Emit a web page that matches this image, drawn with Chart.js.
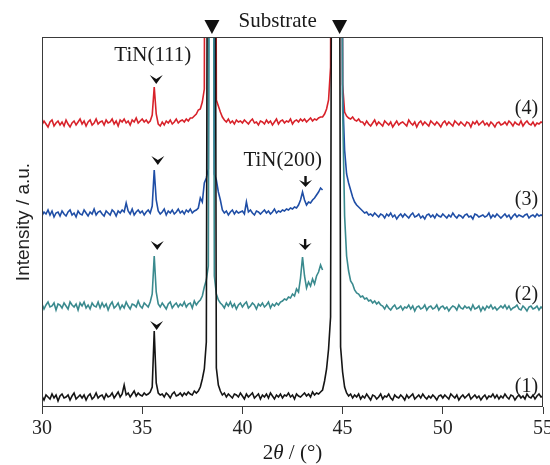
<!DOCTYPE html>
<html>
<head>
<meta charset="utf-8">
<script src="https://cdn.jsdelivr.net/npm/chart.js@4/dist/chart.umd.min.js"></script>
<style>
  html, body { margin: 0; padding: 0; background: #fff; }
  #wrap { width: 550px; height: 465px; position: relative; }
</style>
</head>
<body>
<div id="wrap"><canvas id="xrd"></canvas></div>
<script>
// 2theta grid of the scan (deg), 0.1 deg steps from 30 to 55
const angles = Array.from({ length: 251 }, (_, i) => +(30 + i * 0.1).toFixed(1));
const tickLabels = [30, 35, 40, 45, 50, 55];

// intensities above each trace's own baseline (a.u.), one row per degree; 900 = off scale
const curve1 = [
  1, -3, 2, 0, -2, 3, -1, 2, -4, 1,
  3, -1, 0, 2, -3, 1, 4, -2, 0, 2,
  -1, 2, -3, 1, 3, -2, 0, 4, -1, 1,
  2, -2, 3, 0, 1, 4, -1, 2, 5, 0,
  3, 12, 2, 4, 0, 3, 6, 1, 4, 2,
  1, 4, 2, 3, 5, 10, 66, 14, 4, 2,
  3, 0, 4, 2, -1, 3, 5, 1, 2, 4,
  1, 4, 2, 5, 3, 2, 6, 4, 6, 10,
  18, 28, 55, 900, 900, 900, 900, 29, 12, 6,
  2, 4, 0, 3, 1, -1, 3, 2, 0, 4,
  1, -2, 3, 0, 2, 4, -1, 1, 3, -2,
  2, 0, 3, -1, 4, 1, -2, 2, 0, 3,
  -1, 2, 1, 4, 0, 2, -2, 3, 1, 0,
  2, 4, 1, 3, 0, 5, 2, 4, 3, 5,
  7, 16, 28, 48, 80, 900, 900, 900, 900, 50,
  25, 10, 4, 1, 3, -1, 2, 0, 3, -2,
  1, -1, 3, 0, -3, 2, 1, -2, 0, 3,
  -2, 1, 0, 3, -1, -3, 2, 0, -1, 2,
  0, -3, 2, -1, 1, 3, -2, 0, 2, -1,
  3, 0, -2, 1, -1, 2, 0, -3, 1, 2,
  -1, 2, 0, -2, 3, 1, -1, 2, -3, 0,
  2, -1, 1, 3, -2, 0, 2, -1, 1, -3,
  0, 2, -2, 1, 0, 3, -1, 2, -2, 1,
  -1, 3, 0, -2, 2, 1, -3, 0, 2, -1,
  1, -2, 3, 0, -1, 2, -2, 1, 3, 0,
  1
];
const curve2 = [
  2, -3, 1, 4, -1, 0, 3, -4, 2, 1,
  -2, 3, 0, -3, 4, 1, -1, 2, -4, 3,
  0, 4, -2, 1, -3, 3, 0, -1, 4, -2,
  3, -1, 2, -4, 1, 4, -2, 0, 3, -3,
  1, -2, 4, 0, -3, 2, 1, -1, 5, 0,
  -2, 3, 1, -1, 4, 12, 50, 14, 2, -1,
  3, 0, -3, 2, 4, -2, 1, 3, -1, 2,
  0, 4, -1, 2, 3, -2, 5, 1, 4, 6,
  10, 19, 26, 40, 900, 900, 30, 12, 6, 3,
  1, -2, 3, 0, 4, -1, 2, -3, 1, 3,
  -1, 2, 4, -2, 0, 3, 1, -3, 2, 0,
  3, -1, 1, 4, -2, 2, 0, 3, 1, 4,
  5, 7, 6, 9, 8, 12, 10, 17, 14, 28,
  49, 30, 18, 24, 20, 27, 22, 30, 34, 41,
  36, null, null, null, null, 900, 900, 900, 900, 900,
  200, 90, 50, 35, 25, 22, 16, 13, 12, 9,
  10, 7, 8, 5, 6, 3, 5, 2, 4, 1,
  0, -3, 1, -2, -4, -1, 1, -3, -2, 0,
  -4, -1, -2, 1, -3, 0, -5, -1, 0, -3,
  -2, 1, -4, -1, 0, -3, -2, 1, -4, -1,
  0, -3, -1, -5, -2, 0, -1, -4, 1, -2,
  -3, 0, -2, -1, -4, 1, -3, -2, 0, -5,
  -1, -4, 0, -2, 1, -3, -1, -4, -2, 0,
  -2, 1, -3, 0, -4, -2, -1, 1, -3, -4,
  0, -2, -5, -1, 0, -3, -2, 0, -4, -1,
  -3
];
const curve3 = [
  -2, 2, 0, 4, -1, 3, -3, 1, 2, -2,
  3, 0, -2, 2, 4, -1, 1, -3, 3, 0,
  -1, 4, 1, -2, 2, 0, 5, -1, 2, 3,
  0, -2, 3, 1, -1, 4, 2, -2, 3, 1,
  4, 2, 11, 3, 0, 5, -1, 2, 4, 1,
  3, -1, 2, 4, 1, 8, 44, 14, 3, 0,
  2, 5, -1, 3, 1, 4, 0, 2, 5, 1,
  3, 0, 4, 2, 5, 1, 3, 4, 6, 16,
  12, 31, 36, 45, 900, 900, 40, 34, 22, 14,
  4, 1, 3, -1, 2, 4, 0, 3, 1, 2,
  3, 0, 12, 2, 4, 1, -1, 3, 2, 0,
  2, 4, 1, 3, 0, 2, 5, 1, 3, 2,
  4, 3, 5, 4, 6, 5, 7, 6, 9, 14,
  22, 14, 9, 12, 11, 14, 16, 19, 22, 26,
  24, null, null, null, null, 900, 900, 900, 900, 900,
  120, 64, 40, 31, 24, 17, 12, 9, 7, 5,
  3, 1, 2, -1, 0, -2, 1, -1, -3, 0,
  -1, -4, 0, -2, 1, -3, -1, -5, -2, 0,
  -3, 0, -2, -4, -1, 1, -3, -2, 0, -4,
  -2, -5, -1, 0, -3, -1, -4, 0, -2, -3,
  0, -2, -4, -1, -3, 1, -2, -4, -1, -2,
  -4, -1, 0, -3, -2, -5, 0, -1, -3, -2,
  -1, -3, -2, 1, -4, -1, -3, 0, -2, -4,
  -2, 0, -3, -1, -5, -2, 0, -3, -1, -2,
  -3, -1, 0, -4, -2, -1, -3, 0, -2, -1,
  -2
];
const curve4 = [
  -1, 3, 0, -3, 2, 4, -2, 1, 3, -1,
  2, -2, 4, 0, -3, 1, 3, -1, 2, 5,
  0, 3, -2, 2, 4, -1, 1, 5, 0, 2,
  3, -1, 4, 1, 2, 5, 0, 3, -2, 4,
  2, 5, 1, 3, -1, 4, 2, 6, 1, 3,
  5, 2, 4, 1, 3, 9, 37, 10, 0, -2,
  2, -1, 3, 1, 4, 0, 2, 5, 1, 3,
  4, 2, 5, 3, 6, 6, 8, 10, 14, 15,
  22, 35, 900, 900, 900, 900, 900, 24, 18, 12,
  7, 4, 2, 5, 1, 3, 0, 4, 2, 3,
  1, 4, 2, 0, 3, 5, 1, 2, -1, 3,
  2, 0, 4, 1, 3, -1, 2, 5, 0, 3,
  4, 1, 3, 2, 5, 0, 3, 4, 2, 5,
  3, 5, 2, 4, 6, 3, 5, 4, 6, 7,
  7, 10, 15, 24, 57, 900, 900, 900, 900, 900,
  40, 12, 8, 6, 5, 7, 4, 3, 5, 2,
  2, -1, 3, 0, -2, 1, 4, -1, 2, 0,
  -2, 3, 1, -1, 2, -3, 0, 3, -1, 1,
  2, 0, -2, 4, 1, -1, 2, -3, 1, 3,
  -1, 2, 0, -2, 3, 1, -1, 2, 0, -3,
  1, 3, -1, 2, 0, -2, 3, 1, -1, 2,
  0, -2, 2, 1, -3, 2, 0, 3, -1, 1,
  3, -1, 1, -2, 2, 0, -3, 1, 2, -1,
  0, 2, -1, 3, 1, -2, 2, 0, -1, 3,
  -2, 1, 3, 0, -1, 2, -2, 1, 0, 2,
  1
];

const seriesNames = ["(1)", "(2)", "(3)", "(4)"];
const seriesValues = [curve1, curve2, curve3, curve4];
const seriesOffsets = [10, 101, 193, 283];
const seriesColors = ["#151515", "#3a8a8e", "#1f4ea6", "#d8222a"];

// peak markers: [2theta, intensity of marker tip]
const chevrons = [[35.72, 77], [35.75, 157], [35.78, 242], [35.7, 323]];
const downArrows = [[43.13, 157], [43.15, 220]];
const substratePeaks = [38.48, 44.85];

const SERIF = "'Liberation Serif', 'Times New Roman', serif";

const markers = {
  id: "markers",
  afterDraw(chart) {
    const { ctx, chartArea: a, scales: { x, y } } = chart;
    ctx.save();
    // frame
    ctx.strokeStyle = "#3a3a3a";
    ctx.lineWidth = 1;
    ctx.strokeRect(a.left + 0.5, a.top + 0.5, a.width - 1, a.height - 1);

    ctx.fillStyle = "#111";
    // substrate triangles
    substratePeaks.forEach((p) => {
      const cx = x.getPixelForValue(p);
      ctx.beginPath();
      ctx.moveTo(cx - 7.5, a.top - 17);
      ctx.lineTo(cx + 7.5, a.top - 17);
      ctx.lineTo(cx, a.top - 3);
      ctx.closePath();
      ctx.fill();
    });
    // chevrons over TiN(111)
    chevrons.forEach(([t, v]) => {
      const cx = x.getPixelForValue(t);
      const cy = y.getPixelForValue(v);
      ctx.beginPath();
      ctx.moveTo(cx - 6.5, cy - 9);
      ctx.lineTo(cx, cy);
      ctx.lineTo(cx + 6.5, cy - 9);
      ctx.lineTo(cx, cy - 5);
      ctx.closePath();
      ctx.fill();
    });
    // arrows over TiN(200)
    downArrows.forEach(([t, v]) => {
      const cx = x.getPixelForValue(t);
      const cy = y.getPixelForValue(v);
      ctx.fillRect(cx - 1.2, cy - 11, 2.4, 7);
      ctx.beginPath();
      ctx.moveTo(cx - 6.5, cy - 7);
      ctx.lineTo(cx, cy);
      ctx.lineTo(cx + 6.5, cy - 7);
      ctx.lineTo(cx, cy - 4);
      ctx.closePath();
      ctx.fill();
    });

    // texts
    ctx.fillStyle = "#1a1a1a";
    ctx.textBaseline = "alphabetic";
    ctx.textAlign = "center";
    ctx.font = "21px " + SERIF;
    ctx.fillText("Substrate", x.getPixelForValue(41.76), a.top - 10);
    ctx.fillText("TiN(111)", x.getPixelForValue(35.53), y.getPixelForValue(346));
    ctx.fillText("TiN(200)", x.getPixelForValue(42.01), y.getPixelForValue(241));

    ctx.font = "20px " + SERIF;
    ctx.textAlign = "right";
    const labelLevels = [15, 107, 202, 293];
    seriesNames.forEach((n, i) => {
      ctx.fillText(n, x.getPixelForValue(54.76), y.getPixelForValue(labelLevels[i]));
    });

    // x title: 2θ / (°) with italic theta
    const parts = [["2", ""], ["\u03b8", "italic "], [" / (\u00b0)", ""]];
    ctx.textAlign = "left";
    let total = 0;
    parts.forEach(([s, st]) => { ctx.font = st + "21px " + SERIF; total += ctx.measureText(s).width; });
    let px = (a.left + a.right) / 2 - total / 2;
    parts.forEach(([s, st]) => {
      ctx.font = st + "21px " + SERIF;
      ctx.fillText(s, px, 459);
      px += ctx.measureText(s).width;
    });
    ctx.restore();
  }
};

const datasets = seriesValues.map((vals, i) => ({
  label: seriesNames[i],
  data: angles.map((t, j) => ({ x: t, y: vals[j] === null ? null : vals[j] + seriesOffsets[i] })),
  borderColor: seriesColors[i],
  borderWidth: 1.6,
  pointRadius: 0,
  tension: 0,
  spanGaps: false
}));

new Chart(document.getElementById("xrd"), {
  type: "line",
  data: { datasets },
  options: {
    responsive: true,
    maintainAspectRatio: false,
    animation: false,
    layout: { padding: { top: 37, right: 7, bottom: 0, left: 0 } },
    plugins: { legend: { display: false }, tooltip: { enabled: false } },
    scales: {
      x: {
        type: "linear",
        min: 30,
        max: 55,
        afterBuildTicks: (s) => { s.ticks = tickLabels.map((v) => ({ value: v })); },
        afterFit: (s) => { s.height = 58; s.paddingLeft = 0; s.paddingRight = 7; },
        ticks: { color: "#222", font: { family: SERIF, size: 20 }, padding: 3 },
        grid: { drawOnChartArea: false, drawTicks: true, tickLength: 7, color: "#3a3a3a" },
        border: { display: false }
      },
      y: {
        min: 0,
        max: 370,
        afterFit: (s) => { s.width = 42; s.paddingTop = 0; s.paddingBottom = 0; },
        ticks: { display: false },
        grid: { display: false },
        border: { display: false },
        title: {
          display: true,
          text: "Intensity / a.u.",
          color: "#222",
          font: { family: "'Liberation Sans', Arial, sans-serif", size: 19 },
          padding: { top: 12, bottom: 0 }
        }
      }
    }
  },
  plugins: [markers]
});
</script>
</body>
</html>
